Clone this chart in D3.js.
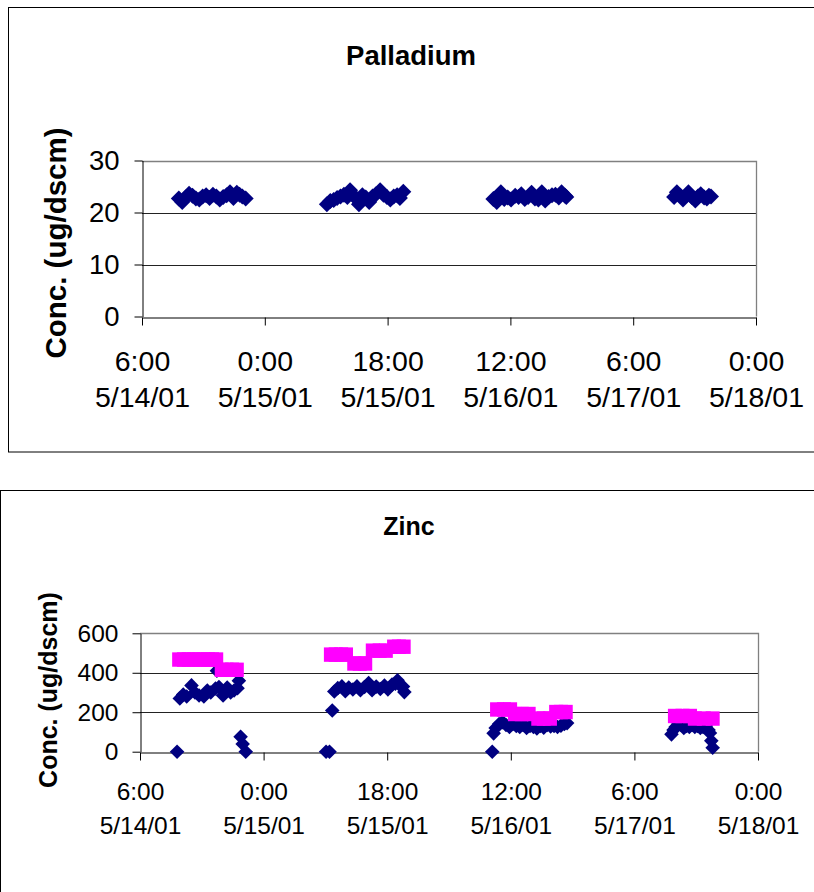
<!DOCTYPE html>
<html><head><meta charset="utf-8">
<script src="https://cdn.jsdelivr.net/npm/d3@7"></script>
<style>
body{margin:0;background:#fff}
svg{display:block}
text{font-family:"Liberation Sans",Arial,Helvetica,sans-serif;fill:#000}
</style>
</head><body>
<svg id="c" width="814" height="892"></svg>
<script>
// ---- data (hours since 5/14/01 0:00) ----
const xTickHours = [6, 24, 42, 60, 78, 96];
const pdYTicks = [0, 10, 20, 30];
const znYTicks = [0, 200, 400, 600];

const pdHours = [
  11.4, 11.9, 12.4, 12.9, 13.4, 13.9, 14.4, 14.9, 15.4, 15.9, 16.4, 16.9, 17.4, 17.9, 18.4, 18.9, 19.4, 19.9, 20.3, 20.7, 21.2,
  33.1, 33.6, 34.1, 34.6, 35.1, 35.6, 36.1, 36.5, 37.0, 37.5, 37.8, 38.3, 38.8, 39.3, 39.8, 40.3, 40.9, 41.4, 41.9, 42.4, 42.9, 43.4, 43.8, 44.3,
  57.5, 58.0, 58.6, 59.1, 59.6, 60.1, 60.7, 61.2, 61.6, 62.1, 62.6, 63.1, 63.6, 64.1, 64.6, 65.1, 65.6, 66.1, 66.6, 67.1, 67.5, 68.0, 68.2,
  84.0, 84.4, 84.9, 85.3, 85.8, 86.1, 86.6, 87.1, 87.5, 87.9, 88.4, 88.8, 89.1, 89.4
];
const pdValues = [
  22.7, 22.0, 22.9, 23.6, 23.2, 22.7, 22.5, 23.1, 23.3, 22.8, 23.4, 23.1, 22.5, 23.0, 23.3, 23.9, 22.8, 23.8, 23.4, 23.1, 22.7,
  21.6, 22.2, 22.4, 22.8, 23.1, 23.4, 23.0, 24.3, 23.2, 22.6, 21.6, 23.3, 22.9, 22.0, 23.1, 23.5, 24.3, 23.4, 23.0, 22.5, 23.1, 23.3, 22.8, 24.0,
  22.6, 22.0, 23.9, 22.6, 22.9, 22.5, 23.2, 23.0, 23.5, 22.6, 23.0, 23.8, 22.7, 22.5, 23.9, 22.3, 23.0, 23.3, 23.4, 22.9, 23.9, 23.2, 23.0,
  23.0, 23.9, 23.2, 22.5, 23.3, 23.9, 23.0, 22.3, 23.1, 23.5, 22.9, 22.7, 23.2, 23.1
];

const znHours = [
  11.4, 11.8, 12.3, 12.8, 13.5, 14.0, 14.6, 15.3, 15.8, 16.3, 17.2, 17.0, 17.5, 18.1, 18.7, 19.2, 19.7, 20.2, 20.4, 20.65, 20.95, 21.4,
  33.1, 33.6, 34.0, 34.3, 34.8, 35.4, 35.9, 36.4, 37.0, 37.6, 38.1, 38.7, 39.3, 39.8, 40.4, 41.0, 41.6, 42.1, 42.7, 43.2, 43.5, 43.9, 44.3, 44.5,
  57.3, 57.5, 57.8, 58.3, 58.8, 59.3, 59.8, 60.3, 60.8, 61.3, 61.8, 62.3, 62.8, 63.3, 63.8, 64.3, 64.8, 65.3, 65.8, 66.3, 66.8, 67.3, 67.8, 68.2,
  83.4, 83.7, 84.0, 84.4, 84.8, 85.2, 85.6, 86.0, 86.4, 86.8, 87.2, 87.6, 88.0, 88.4, 88.8, 89.0, 89.2, 89.4
];
const znValues = [
  0, 270, 290, 280, 336, 300, 285, 280, 310, 300, 410, 320, 328, 285, 325, 300, 310, 322, 360, 76, 39, 0,
  0, 0, 209, 305, 322, 331, 306, 325, 315, 331, 312, 328, 348, 312, 330, 318, 335, 316, 340, 345, 362, 335, 330, 302,
  0, 93, 120, 140, 150, 135, 125, 140, 130, 125, 135, 120, 130, 125, 118, 130, 122, 135, 128, 130, 125, 132, 140, 145,
  88, 110, 125, 140, 135, 120, 130, 125, 135, 125, 130, 120, 125, 130, 110, 95, 55, 20
];

const znAvgHours = [
  11.7, 12.4, 13.1, 13.8, 14.5, 15.2, 15.9, 16.5, 17.1, 17.9, 18.6, 19.4, 20.1,
  33.8, 34.5, 35.3, 36.0, 37.2, 38.0, 38.8, 39.9, 40.9, 41.8, 43.0, 43.7, 44.4,
  58.0, 59.0, 59.9, 60.6, 61.6, 62.6, 64.0, 64.8, 65.7, 66.6, 67.3, 68.0,
  83.9, 85.0, 86.1, 86.8, 88.1, 89.4
];
const znAvgValues = [
  467, 467, 467, 467, 467, 467, 467, 467, 467, 415, 415, 415, 415,
  492, 492, 492, 492, 447, 447, 447, 512, 512, 512, 532, 532, 532,
  214, 214, 214, 191, 191, 191, 168, 168, 168, 201, 201, 201,
  181, 181, 181, 168, 168, 168
];

// ---- helpers ----
const base = new Date(2001, 4, 14, 0, 0, 0);
const toDate = h => new Date(base.getTime() + h * 3600000);
const fmtTime = d3.timeFormat("%-H:%M");
const fmtDate = d3.timeFormat("%-m/%-d/%y");
const svg = d3.select("#c");

function drawChart(cfg) {
  const g = svg.append("g");
  // chart border
  g.append("rect")
    .attr("x", cfg.frame[0]).attr("y", cfg.frame[1])
    .attr("width", cfg.frame[2]).attr("height", cfg.frame[3])
    .attr("fill", "none").attr("stroke", "#000").attr("stroke-width", 1);

  const x = d3.scaleTime().domain([toDate(6), toDate(96)]).range([cfg.left, cfg.right]);
  const y = d3.scaleLinear().domain([0, cfg.yMax]).range([cfg.bottom, cfg.top]);

  // gridlines
  g.append("g").selectAll("line").data(cfg.yTicks.filter(v => v > 0 && v < cfg.yMax)).join("line")
    .attr("x1", cfg.left).attr("x2", cfg.right)
    .attr("y1", d => Math.round(y(d)) + 0.5).attr("y2", d => Math.round(y(d)) + 0.5)
    .attr("stroke", "#222").attr("stroke-width", 1);
  // plot area border (top, right)
  g.append("path")
    .attr("d", `M${cfg.left},${Math.round(cfg.top) + 0.5}H${cfg.right + 0.5}V${cfg.bottom}`)
    .attr("fill", "none").attr("stroke", "#808080").attr("stroke-width", 1.3);

  // y axis
  const ya = g.append("g").attr("transform", `translate(${cfg.left + 0.5},0)`)
    .call(d3.axisLeft(y).tickValues(cfg.yTicks).tickSize(8).tickSizeOuter(0).tickPadding(cfg.yPad));
  ya.selectAll("path,line").attr("stroke", "#000");
  ya.selectAll("text").attr("font-size", cfg.yTickFont).attr("font-family", null).attr("fill", "#000");

  // x axis
  const xa = g.append("g").attr("transform", `translate(0,${Math.round(cfg.bottom) + 0.5})`)
    .call(d3.axisBottom(x).tickValues(xTickHours.map(toDate)).tickSize(8).tickSizeOuter(0));
  xa.selectAll("path,line").attr("stroke", "#000");
  xa.selectAll("text").remove();
  const ticks = xa.selectAll(".tick");
  ticks.append("text").attr("text-anchor", "middle").attr("font-size", cfg.tickFont)
    .attr("y", cfg.xLab1).text(d => fmtTime(d));
  ticks.append("text").attr("text-anchor", "middle").attr("font-size", cfg.tickFont)
    .attr("y", cfg.xLab2).text(d => fmtDate(d));

  // title
  g.append("text").attr("x", cfg.titleX).attr("y", cfg.titleY).attr("text-anchor", "middle")
    .attr("font-size", cfg.titleFont).attr("font-weight", "bold").text(cfg.title);
  // y label
  g.append("text").attr("transform", `translate(${cfg.ylabX},${cfg.ylabY}) rotate(-90)`)
    .attr("text-anchor", "middle").attr("font-size", cfg.ylabFont).attr("font-weight", "bold")
    .text("Conc. (ug/dscm)");

  // series
  const s = cfg.mk;
  const diamond = `M0,${-s}L${s},0L0,${s}L${-s},0Z`;
  g.append("g").selectAll("path").data(cfg.hours.map((h, i) => [h, cfg.values[i]])).join("path")
    .attr("d", diamond)
    .attr("transform", d => `translate(${x(toDate(d[0]))},${y(d[1])})`)
    .attr("fill", "#000080");
  if (cfg.avgHours) {
    g.append("g").selectAll("rect").data(cfg.avgHours.map((h, i) => [h, cfg.avgValues[i]])).join("rect")
      .attr("x", d => x(toDate(d[0])) - 7).attr("y", d => y(d[1]) - 7.2)
      .attr("width", 14).attr("height", 14.4)
      .attr("fill", "#FF00FF");
  }
}

drawChart({
  frame: [8.5, 7.5, 820, 444.5],
  left: 142, right: 756, top: 160.5, bottom: 316.5, yMax: 30, yTicks: pdYTicks, yPad: 15,
  tickFont: "28.5px", yTickFont: "27.5px", xLab1: 53, xLab2: 89.5,
  title: "Palladium", titleX: 411, titleY: 65, titleFont: "27.5px",
  ylabX: 66, ylabY: 243, ylabFont: "29.5px", mk: 8,
  hours: pdHours, values: pdValues
});

drawChart({
  frame: [0.5, 490.5, 830, 500],
  left: 140, right: 758, top: 633.3, bottom: 751.7, yMax: 600, yTicks: znYTicks, yPad: 14,
  tickFont: "24.5px", yTickFont: "24.5px", xLab1: 47, xLab2: 81,
  title: "Zinc", titleX: 409, titleY: 535, titleFont: "25px",
  ylabX: 57, ylabY: 690, ylabFont: "25px", mk: 7.3,
  hours: znHours, values: znValues,
  avgHours: znAvgHours, avgValues: znAvgValues
});
</script>
</body></html>
